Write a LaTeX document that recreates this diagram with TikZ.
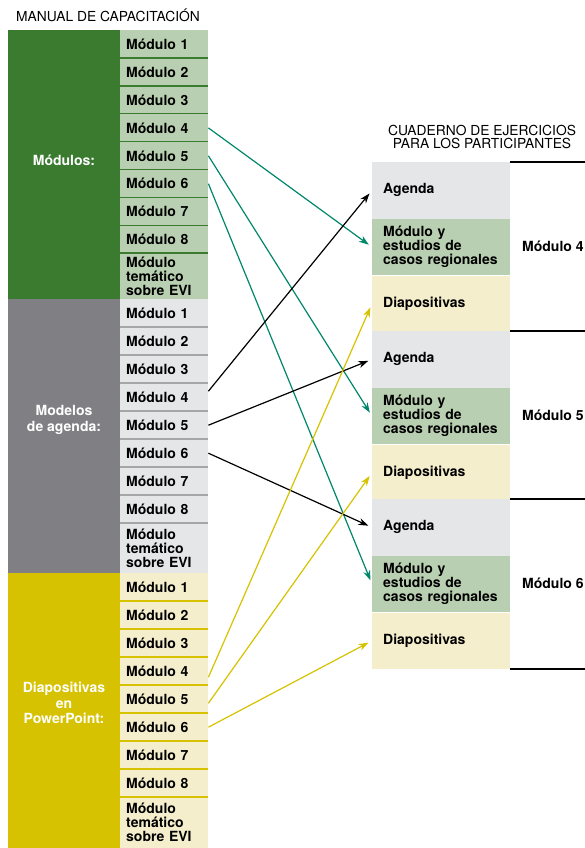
\documentclass[tikz,border=0pt]{standalone}
\usepackage{fontspec}
\setmainfont{TeX Gyre Heros}
\usepackage{xcolor}
\usepackage{tikz}
\usetikzlibrary{arrows.meta,positioning}

\definecolor{modgreen}{HTML}{3A7B30}
\definecolor{modgreenlt}{HTML}{B9CFB1}
\definecolor{agdgray}{HTML}{808084}
\definecolor{agdgraylt}{HTML}{E5E6E8}
\definecolor{pptyellow}{HTML}{D6C200}
\definecolor{pptyellowlt}{HTML}{F5EECC}
\definecolor{arrteal}{HTML}{00876A}

\begin{document}
\begin{tikzpicture}[x=1pt, y=-1pt, font=\fontsize{14}{14}\selectfont\bfseries]

\tikzstyle{block} = [inner sep=0pt, anchor=north west]
\tikzstyle{bigblock} = [block, minimum width=112pt]
\tikzstyle{biglabel} = [text=white, align=center, font=\fontsize{14}{15.5}\selectfont\bfseries]
\tikzstyle{cell} = [block, minimum width=88pt, minimum height=28pt, text width=76pt, inner xsep=6pt, inner ysep=0pt, align=left]
\tikzstyle{wbbox} = [block, minimum width=138pt, minimum height=56.3pt, text width=116pt, inner xsep=11pt, align=left]
\tikzstyle{title} = [font=\fontsize{13.8}{12.5}\selectfont, align=center]
\tikzstyle{link} = [line width=1.2pt, shorten >=4pt, -{Stealth[length=10pt, width=7pt]}]

\useasboundingbox (0,0) rectangle (584,848);

\node [title] (manual) at (108,15) {MANUAL DE CAPACITACIÓN};

% big blocks on the left
\node [bigblock, fill=modgreen, minimum height=269pt] (mods) at (8,30) {};
\node [bigblock, fill=agdgray, minimum height=274pt] (agds) at (8,299) {};
\node [bigblock, fill=pptyellow, minimum height=275pt] (ppts) at (8,573) {};
\node [biglabel] (mods-label) at (64,160) {Módulos:};
\node [biglabel] (agds-label) at (64,420) {Modelos\\de agenda:};
\node [biglabel] (ppts-label) at (64,703) {Diapositivas\\en\\PowerPoint:};

% cells
\foreach \i in {1,...,8} {
  \node [cell, fill=modgreenlt] (m\i) at (120,{30+27.9*(\i-1)}) {Módulo \i};
  \node [cell, fill=agdgraylt] (a\i) at (120,{299+28*(\i-1)}) {Módulo \i};
  \node [cell, fill=pptyellowlt] (p\i) at (120,{573+28*(\i-1)}) {Módulo \i};
}
\node [cell, fill=modgreenlt, minimum height=46pt] (m9) at (120,253) {Módulo\\temático\\sobre EVI};
\node [cell, fill=agdgraylt, minimum height=50pt] (a9) at (120,523) {Módulo\\temático\\sobre EVI};
\node [cell, fill=pptyellowlt, minimum height=51pt] (p9) at (120,797) {Módulo\\temático\\sobre EVI};
\foreach \i in {2,...,9} {
  \draw [modgreen, line width=1.5pt] (m\i.north west) -- (m\i.north east);
  \draw [agdgray!70, line width=1.5pt] (a\i.north west) -- (a\i.north east);
  \draw [pptyellow, line width=1.5pt] (p\i.north west) -- (p\i.north east);
}

% workbook on the right
\node [title] (workbook) at (482,137) {CUADERNO DE EJERCICIOS\\PARA LOS PARTICIPANTES};
\foreach \g/\y/\n in {1/162/4, 2/331/5, 3/499/6} {
  \node [wbbox, fill=agdgraylt] (ag\g) at (372,\y) {Agenda};
  \node [wbbox, fill=modgreenlt, below=0pt of ag\g] (mc\g) {Módulo y\\estudios de\\casos regionales};
  \node [wbbox, fill=pptyellowlt, below=0pt of mc\g] (dp\g) {Diapositivas};
  \node [anchor=west, inner sep=0pt] (wb\g) at (522,{\y+84.5}) {Módulo \n};
  \draw [line width=1.5pt] (ag\g.north east) -- ++(76,0);
}
\draw [line width=1.5pt] (dp3.south east) -- ++(76,0);

% links
\draw [link, arrteal] (m4.east) -- (mc1.west);
\draw [link, arrteal] (m5.east) -- (mc2.west);
\draw [link, arrteal] (m6.east) -- (mc3.west);
\draw [link, black] ([yshift=6pt]a4.east) -- (ag1.west);
\draw [link, black] (a5.east) -- (ag2.west);
\draw [link, black] (a6.east) -- (ag3.west);
\draw [link, pptyellow] ([yshift=-6pt]p4.east) -- (dp1.west);
\draw [link, pptyellow] ([yshift=-4pt]p5.east) -- (dp2.west);
\draw [link, pptyellow] (p6.east) -- (dp3.west);
\end{tikzpicture}
\end{document}
